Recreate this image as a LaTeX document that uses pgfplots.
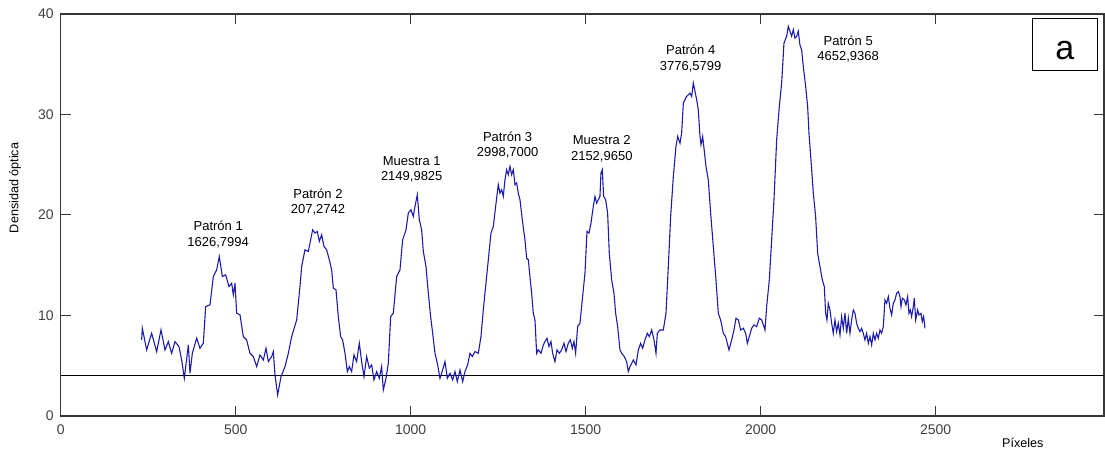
\documentclass[border=0pt]{standalone}
\usepackage{fontspec}
\setmainfont{Liberation Sans}
\usepackage{pgfplots}
\pgfplotsset{compat=1.18}
\definecolor{curve}{RGB}{28,28,170}
\definecolor{axgray}{RGB}{55,55,55}

\begin{document}
\begin{tikzpicture}
\begin{axis}[
  name=ax,
  scale only axis,
  width=521.65pt, height=201pt,
  xmin=0, xmax=2981, ymin=0, ymax=40,
  xtick={0,500,1000,1500,2000,2500},
  ytick={0,10,20,30,40},
  xtick pos=both, ytick pos=both,
  tick align=inside,
  major tick length=5pt,
  axis line style={axgray, line width=0.6pt},
  tick style={axgray, line width=0.5pt},
  tick label style={font=\fontsize{7}{8}\selectfont, text=black!75},
  xticklabel style={yshift=-0.8pt},
  /pgf/number format/assume math mode=true,
  /pgf/number format/set thousands separator={},
  clip=false,
]
% baseline
\addplot[black, line width=0.55pt] coordinates {(0,4.07) (2981,4.07)};

% densitometry profile
\addplot[curve, line width=0.55pt] coordinates {
(231.3,7.57) (233.2,8.73) (245.6,6.57) (259.9,8.23) (274.2,6.4) (286.6,8.57) (298,6.57) (307.5,7.4) (317,6.24) (326.6,7.4)
(338,6.9) (345.6,5.58) (353.2,3.75) (364.7,7.07) (369.4,4.25) (376.1,6.24) (388.5,7.74) (398,6.74) (407.5,7.24) (414.2,10.89)
(426.6,11.06) (436.1,13.88) (445.6,14.54) (453.2,15.87) (461.8,13.88) (471.3,14.04) (480.9,12.88) (488.5,13.21) (493.2,12.05) (498,13.21)
(502.8,10.23) (512.3,10.06) (521.8,7.9) (531.3,7.57) (540.9,6.24) (550.4,5.91) (559.9,4.91) (569.4,6.07) (579,5.58) (586.6,6.74)
(593.2,5.41) (602.8,5.91) (607.5,6.4) (612.3,4.08) (619.9,2.09) (629.4,3.91) (640.9,4.91) (650.4,6.24) (659.9,7.9) (674.2,9.56)
(683.7,12.88) (688.5,14.88) (698,16.54) (707.5,16.37) (719.9,18.53) (726.6,18.2) (733.2,18.36) (738.9,17.37) (745.6,18.03) (752.3,16.87)
(759.9,16.54) (767.5,15.54) (774.2,14.54) (779,12.72) (786.6,12.55) (793.2,9.89) (799.9,7.9) (805.6,7.57) (812.3,6.24) (819,4.42)
(824.7,4.92) (831.3,4.42) (838,6.08) (845.6,5.41) (853.2,7.24) (859.9,5.41) (866.6,3.92) (874.2,5.91) (881.8,4.75) (888.5,5.08)
(895.1,3.59) (902.8,4.42) (910.4,3.75) (917,4.92) (921.8,2.59) (929.4,3.75) (936.1,5.25) (942.8,9.89) (950.4,10.23) (959.9,13.88)
(969.4,14.54) (977,17.53) (986.6,18.53) (993.2,20.19) (1000.8,20.52) (1007.5,19.86) (1012.3,20.85) (1018.9,22.01) (1024.7,19.52) (1031.3,18.53)
(1036.1,16.37) (1043.7,14.88) (1050.4,12.22) (1057,9.89) (1062.8,8.24) (1069.4,6.24) (1076.1,5.25) (1083.7,3.75) (1091.3,4.58) (1098,5.41)
(1104.7,3.75) (1112.3,4.25) (1119.9,3.59) (1126.6,4.42) (1133.2,3.42) (1140.9,4.58) (1148.5,3.42)
(1155.1,4.42) (1162.7,5.08) (1169.4,6.24) (1176.1,5.91) (1183.7,6.41) (1193.2,6.24) (1200.8,7.9) (1207.5,10.56) (1214.1,12.88) (1221.8,15.54)
(1229.4,18.2) (1236.1,18.86) (1242.7,20.85) (1250.3,23.01) (1255.1,22.18) (1259.9,22.51) (1264.6,21.85) (1269.4,23.51) (1274.1,24.5) (1278.9,24.0)
(1283.7,24.84) (1288.4,24.0) (1293.2,24.5) (1298,23.01) (1302.7,23.18) (1307.5,22.18) (1312.3,21.52) (1318.9,19.52) (1326.5,17.53) (1331.3,15.71)
(1336.1,15.54) (1340.8,13.88) (1345.6,12.22) (1350.3,10.23) (1355.1,9.56) (1359.9,6.24) (1364.6,6.58) (1372.2,6.24) (1378.9,7.07) (1383.7,7.41)
(1389.4,7.74) (1395.1,6.91) (1400.8,7.41) (1405.6,6.24) (1412.2,5.41) (1418,6.58) (1424.6,6.24) (1431.3,6.58) (1438,7.24) (1443.7,6.41)
(1450.3,7.24) (1456.1,7.57) (1461.8,6.74) (1466.5,7.41) (1471.3,6.24) (1477,8.9) (1483.7,9.23) (1490.3,11.56) (1498,14.21) (1503.7,18.36)
(1509.4,18.2) (1515.1,19.19) (1521.8,20.85) (1526.5,21.85) (1531.3,21.18) (1536.1,21.52) (1540.8,21.85) (1543.7,24.17) (1547.5,24.5) (1551.3,21.85)
(1557,21.52) (1562.7,20.19) (1567.5,16.2) (1574.2,13.55) (1580.8,12.22) (1585.6,10.23) (1591.3,8.9) (1598,6.58) (1602.7,6.24) (1610.3,5.91)
(1617,5.41) (1621.8,4.42)
(1626.6,4.91) (1636.1,5.57) (1643.7,5.08) (1650.4,6.57) (1657.1,7.23) (1662.8,6.74) (1669.5,7.57) (1676.1,8.23) (1681.8,7.9) (1688.5,8.56)
(1695.2,7.57) (1700.9,6.24) (1704.7,8.23) (1712.3,8.56) (1721.8,8.56) (1729.5,10.22) (1736.1,14.87) (1742.8,19.85) (1750.4,23.83) (1758,26.82)
(1762.8,27.82) (1769.5,27.15) (1774.2,28.15) (1779,31.14) (1783.7,31.47) (1788.5,31.8) (1793.3,31.97) (1798,32.13) (1802.8,31.8) (1807.6,33.13)
(1812.3,32.3) (1817.1,31.47) (1821.8,30.47) (1826.6,27.82) (1829.5,26.99) (1834.2,27.82) (1838,26.66) (1843.7,24.83) (1850.4,23.5) (1857.1,20.18)
(1864.7,16.86) (1872.3,13.54) (1879,10.22) (1885.6,9.56) (1893.3,8.23) (1899.9,7.9) (1904.7,7.23) (1909.5,6.57) (1917.1,7.57) (1923.8,8.56)
(1929.5,9.73) (1936.1,9.56) (1942.8,8.56) (1950.4,8.73) (1957.1,8.23) (1961.9,7.23) (1967.6,7.9) (1974.2,8.73) (1980.9,9.06) (1988.5,8.89)
(1996.1,9.73) (2002.8,9.56) (2007.6,9.06) (2012.3,8.56) (2017.1,10.89) (2024.7,13.54) (2031.4,17.53) (2038,21.51) (2045.7,27.49) (2053.3,30.81)
(2059.9,33.13) (2066.6,37.11) (2074.2,37.78) (2079,38.77) (2083.8,38.28) (2088.5,37.78) (2093.3,38.44)
(2098,37.6) (2102.8,37.78) (2107.5,38.28) (2112.3,36.9) (2117,36.45) (2121.8,34.79) (2128.5,32.8) (2134.2,30.81) (2138,28.15) (2143.7,25.49)
(2150.4,22.17) (2157,19.85) (2162.8,16.2) (2169.4,14.87) (2176.1,13.54) (2181.8,12.88) (2185.6,10.22) (2189.4,9.56) (2193.2,11.22) (2198,10.55)
(2202.8,9.23) (2207.5,8.23) (2212.3,9.56) (2217,8.4) (2221.8,9.23) (2226.6,8.07) (2231.3,9.89) (2236.1,8.73) (2240.9,10.22) (2245.6,8.23)
(2250.4,9.73) (2255.1,8.23) (2259.9,9.56) (2264.7,10.55) (2269.4,10.22) (2274.2,9.23) (2279,8.73) (2283.7,8.4) (2288.5,8.73) (2293.2,8.23)
(2298,7.57) (2302.8,8.23) (2307.5,7.23) (2312.3,7.9) (2317.1,7.07) (2321.8,8.23) (2326.6,7.57) (2331.3,8.23) (2336.1,7.73) (2340.9,8.56)
(2345.6,8.23) (2350.4,8.89) (2355.1,11.55) (2359.9,11.22) (2364.7,11.88) (2369.4,10.72) (2374.2,10.06) (2379,11.22) (2383.7,11.55) (2388.5,12.22)
(2393.2,12.38) (2398,11.88) (2400.9,10.89) (2404.7,11.72) (2410.4,11.55) (2415.1,11.05) (2419.9,11.88) (2423.7,10.22) (2427.5,10.55) (2431.3,9.89)
(2436.1,10.89) (2439,11.72) (2442.8,9.56) (2448.5,10.55) (2452.3,10.06) (2458,10.22) (2461.8,9.39) (2465.6,9.89) (2469.4,8.73)
};

% peak annotations
\begin{scope}[every node/.style={align=center, font=\fontsize{6.5}{7.75}\selectfont, inner sep=0pt}]
\node at (axis cs:450,18.06) {Patrón 1\\1626,7994};
\node at (axis cs:735,21.3) {Patrón 2\\207,2742};
\node at (axis cs:1003,24.55) {Muestra 1\\2149,9825};
\node at (axis cs:1277,26.94) {Patrón 3\\2998,7000};
\node at (axis cs:1546,26.61) {Muestra 2\\2152,9650};
\node at (axis cs:1800,35.57) {Patrón 4\\3776,5799};
\node at (axis cs:2250,36.53) {Patrón 5\\4652,9368};
\end{scope}

% panel tag
\node[draw=black, line width=0.8pt, minimum width=32.5pt, minimum height=26pt, inner sep=0pt] at (axis cs:2869,36.95) {};
\node[font=\fontsize{17}{17}\selectfont, inner sep=0pt] at (axis cs:2869,36.35) {a};

% axis titles
\node[rotate=90, font=\fontsize{6.3}{7}\selectfont] at ([xshift=-22.85pt]axis cs:0,22.7) {Densidad óptica};
\node[font=\fontsize{6.3}{7}\selectfont] at ([yshift=-13.5pt]axis cs:2749,0) {Píxeles};
\end{axis}
\pgfresetboundingbox
\path ([xshift=-30.35pt,yshift=-21pt]ax.south west) rectangle ([xshift=0.5pt,yshift=7pt]ax.north east);
\end{tikzpicture}
\end{document}
